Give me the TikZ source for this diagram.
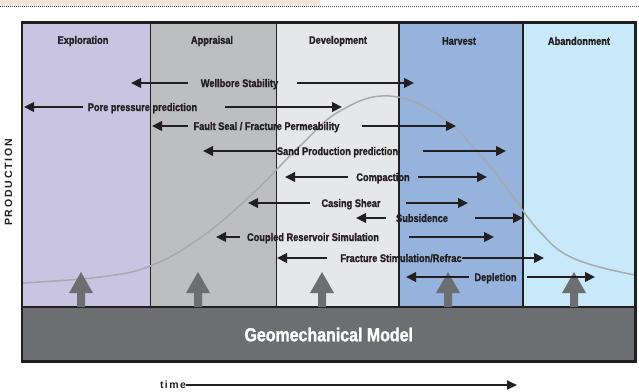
\documentclass[tikz,border=0pt]{standalone}
\usepackage{fontspec}
\setmainfont{Liberation Sans}
\newfontfamily\condsans[FakeStretch=0.84, BoldFeatures={FakeBold=1.2}]{Liberation Sans}
\newfontfamily\spacedsans[LetterSpace=17]{Liberation Sans}
\newfontfamily\timesans[LetterSpace=14]{Liberation Sans}
\usetikzlibrary{arrows.meta}

\definecolor{ink}{HTML}{231F20}
\definecolor{explore}{HTML}{C8C4E2}
\definecolor{appraise}{HTML}{BDBEC0}
\definecolor{develop}{HTML}{E6E7E8}
\definecolor{harvest}{HTML}{95B3DD}
\definecolor{abandon}{HTML}{C8E9F9}
\definecolor{modelgray}{HTML}{6D6E71}
\definecolor{curvegray}{HTML}{A7A9AC}
\definecolor{band}{HTML}{F5E4DC}

% one row: name, y, label centre x, label, left tail, left tip, right tail, right tip
\newcommand\flowrow[8]{%
  \node[lbl] (#1) at (#3,#2+4) {#4};
  \coordinate (#1-lt) at (#5,#2);
  \coordinate (#1-lh) at (#6,#2);
  \coordinate (#1-rt) at (#7,#2);
  \coordinate (#1-rh) at (#8,#2);
  \draw[flow] (#1-lt) -- (#1-lh);
  \draw[flow] (#1-rt) -- (#1-rh);
}

\begin{document}
\begin{tikzpicture}[x=1pt,y=-1pt,
  phase/.style={font=\condsans\bfseries\fontsize{11}{13}\selectfont, text=ink, inner sep=0pt},
  lbl/.style={font=\condsans\bfseries\fontsize{11}{13}\selectfont, text=ink, inner sep=0pt, anchor=base},
  flow/.style={draw=ink, line width=2.3pt, -{Triangle[length=10pt,width=9.5pt]}},
  divider/.style={draw=ink, line width=1.2pt},
  model/.style={fill=modelgray, text=white, inner sep=0pt,
    minimum width=613.5pt, minimum height=55pt,
    font=\condsans\bfseries\fontsize{19}{22}\selectfont},
  uparrow/.style={fill=modelgray}
]
\useasboundingbox (0,0) rectangle (639,391);

% page header band and dotted rule
\fill[band] (0,0) rectangle (320,5.5);
\draw[ink!80, line width=0.8pt, dash pattern=on 1pt off 1pt] (0,6.5) -- (639,6.5);

% lifecycle phase columns
\fill[explore]  (22,22) rectangle (150.7,307);
\fill[appraise] (150.7,22) rectangle (276.7,307);
\fill[develop]  (276.7,22) rectangle (399,307);
\fill[harvest]  (399,22) rectangle (523,307);
\fill[abandon]  (523,22) rectangle (635.5,307);
\draw[divider] (150.7,22) -- (150.7,307);
\draw[divider] (276.7,22) -- (276.7,307);
\draw[divider] (399,22) -- (399,307);
\draw[divider] (523,22) -- (523,307);

\node[phase] (exploration) at (83,41) {Exploration};
\node[phase] (appraisal) at (212,41) {Appraisal};
\node[phase] (development) at (338,41) {Development};
\node[phase] (harvest) at (459,41) {Harvest};
\node[phase] (abandonment) at (579,41) {Abandonment};

% production profile
\draw[curvegray, line width=1.5pt] plot[smooth, tension=0.7] coordinates {
  (22,283) (100,277) (150,266) (200,238) (250,196) (300,146) (340,111)
  (389,96) (440,116) (476,150) (506,187) (540,232) (575,259) (635,275)};

% geomechanical model base
\node[model] (model) at (328.75,334.5) {Geomechanical Model};
\draw[ink, line width=2pt] (model.north west) -- (model.north east);

\foreach \cx in {81,198,322,448,574}{
  \fill[uparrow] (\cx-4,307) -- (\cx-4,293) -- (\cx-12,293) -- (\cx,272)
    -- (\cx+12,293) -- (\cx+4,293) -- (\cx+4,307) -- cycle;
}

% outer frame
\draw[ink, line width=2.3pt] (22,22.5) rectangle (635.5,361.5);

% applications across the lifecycle
\flowrow{wellbore}{83}{239.5}{Wellbore Stability}{188}{131}{297}{414}
\flowrow{porepressure}{107}{142.5}{Pore pressure prediction}{83}{24}{225}{342}
\flowrow{faultseal}{126}{266.5}{Fault Seal / Fracture Permeability}{188}{152}{362}{456}
\flowrow{sand}{151}{337.5}{Sand Production prediction}{277}{203}{423}{506}
\flowrow{compaction}{177}{383}{Compaction}{348}{285}{418}{487}
\flowrow{casing}{203}{351}{Casing Shear}{310}{248}{406}{468}
\flowrow{subsidence}{218}{422}{Subsidence}{386}{356}{475}{523}
\flowrow{coupled}{237}{313}{Coupled Reservoir Simulation}{240}{216}{409}{494}
\flowrow{fracture}{258}{401}{Fracture Stimulation/Refrac}{327}{277}{462}{544}
\flowrow{depletion}{277}{495.5}{Depletion}{469}{406}{527}{595}

% axes
\node[rotate=90, text=ink, inner sep=0pt, font=\spacedsans\bfseries\fontsize{10.5}{12}\selectfont]
  (production) at (8.5,182.5) {PRODUCTION};
\node[text=ink, inner sep=0pt, font=\timesans\bfseries\fontsize{10.5}{12}\selectfont]
  (time) at (173,385) {time};
\coordinate (timeend) at (517,385);
\draw[ink, line width=2pt, -{Triangle[length=10pt,width=9pt]}] (time.east) -- (timeend);
\end{tikzpicture}
\end{document}
